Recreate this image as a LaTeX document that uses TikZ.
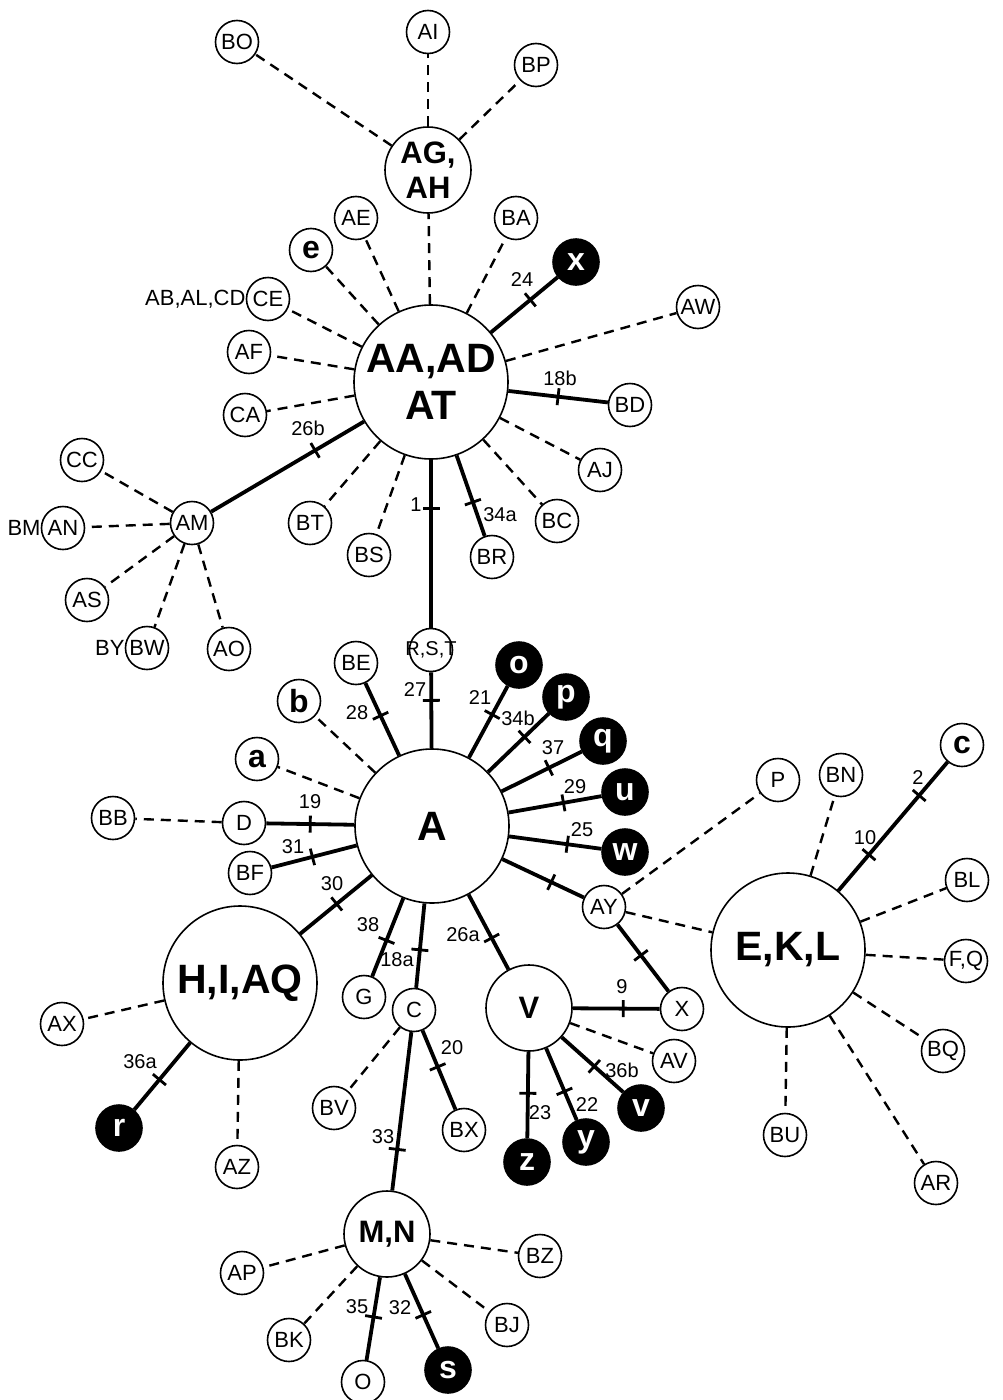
\documentclass[tikz,border=0pt]{standalone}
\usepackage{fontspec}
\setmainfont{Liberation Sans}

\tikzset{
    hap/.style={circle, draw, line width=1.6pt, inner sep=0pt, minimum size=43pt, fill=white, font=\fontsize{22}{24}\selectfont},
    haplow/.style={hap, font=\fontsize{32}{32}\selectfont\bfseries},
    hapdark/.style={haplow, fill=black, text=white, minimum size=46pt},
    hapmid/.style={hap, minimum size=86pt, align=center, font=\fontsize{31}{35}\selectfont\bfseries},
    hapbig/.style={hap, minimum size=154pt, align=center, font=\fontsize{41}{47}\selectfont\bfseries},
    mut/.style={line width=3.8pt},
    alt/.style={line width=2.4pt, dash pattern=on 10pt off 7pt},
    mutbar/.style={fill=black, inner sep=0pt, minimum width=2.8pt, minimum height=17pt, sloped},
    mutno/.style={inner sep=0pt, font=\fontsize{20}{20}\selectfont},
    beside/.style={inner sep=0pt, anchor=east, font=\fontsize{22}{24}\selectfont}
}

\begin{document}
\begin{tikzpicture}[x=1pt, y=-1pt]

        \useasboundingbox (0,0) rectangle (1002,1400);

        % Zentren
        \node [hapbig] (AAAD) at (431,382) {AA,AD\\AT};
        \node [hapbig] (A) at (432,826) {A};
        \node [hapbig] (EKL) at (788,950) {E,K,L};
        \node [hapbig] (HIAQ) at (240,983) {H,I,AQ};
        \node [hapmid] (AGAH) at (428,170) {AG,\\AH};
        \node [hapmid] (V) at (529,1008) {V};
        \node [hapmid] (MN) at (387,1234) {M,N};

        % obere Gruppe
        \node [hap] (BO) at (237,42) {BO};
        \node [hap] (AI) at (428,32) {AI};
        \node [hap] (BP) at (536,65) {BP};
        \node [hap] (AE) at (356,218) {AE};
        \node [hap] (BA) at (516,218) {BA};
        \node [haplow] (e) at (311,250) {e};
        \node [hapdark] (x) at (576,262) {x};
        \node [hap] (CE) at (268,299) {CE};
        \node [beside] (abalcd) at (CE.west) {AB,AL,CD};
        \node [hap] (AW) at (698,307) {AW};
        \node [hap] (AF) at (249,352) {AF};
        \node [hap] (CA) at (245,415) {CA};
        \node [hap] (BD) at (630,405) {BD};
        \node [hap] (AJ) at (600,470) {AJ};
        \node [hap] (BC) at (557,521) {BC};
        \node [hap] (BR) at (492,557) {BR};
        \node [hap] (BS) at (369,555) {BS};
        \node [hap] (BT) at (310,523) {BT};

        % AM
        \node [hap] (AM) at (192,523) {AM};
        \node [hap] (CC) at (82,460) {CC};
        \node [hap] (AN) at (63,528) {AN};
        \node [beside] (bm) at (AN.west) {BM};
        \node [hap] (AS) at (87,600) {AS};
        \node [hap] (BW) at (147,648) {BW};
        \node [beside] (by) at (BW.west) {BY};
        \node [hap] (AO) at (229,649) {AO};

        % um A
        \node [hap] (RST) at (431,650) {};
        \node [font=\fontsize{20}{22}\selectfont] (rst) at (RST) {R,S,T};
        \node [hap] (BE) at (356,663) {BE};
        \node [hapdark] (o) at (519,665) {o};
        \node [hapdark] (p) at (566,697) {p};
        \node [hapdark] (q) at (603,741) {q};
        \node [hapdark] (u) at (625,792) {u};
        \node [hapdark] (w) at (625,852) {w};
        \node [haplow] (b) at (299,701) {b};
        \node [haplow] (a) at (257,759) {a};
        \node [hap] (BB) at (113,818) {BB};
        \node [hap] (D) at (244,823) {D};
        \node [hap] (BF) at (250,873) {BF};
        \node [hap] (AY) at (604,907) {AY};
        \node [hap] (X) at (682,1009) {X};
        \node [hap] (AV) at (674,1061) {AV};
        \node [hap] (G) at (364,997) {G};
        \node [hap] (C) at (414,1010) {C};
        \node [hap] (BV) at (334,1108) {BV};
        \node [hap] (BX) at (464,1130) {BX};
        \node [hapdark] (v) at (641,1108) {v};
        \node [hapdark] (y) at (586,1142) {y};
        \node [hapdark] (z) at (527,1162) {z};

        % E,K,L
        \node [hap] (P) at (778,780) {P};
        \node [hap] (BN) at (841,775) {BN};
        \node [haplow] (c) at (962,745) {c};
        \node [hap] (BL) at (967,880) {BL};
        \node [hap] (FQ) at (966,961) {F,Q};
        \node [hap] (BQ) at (943,1051) {BQ};
        \node [hap] (AR) at (936,1183) {AR};
        \node [hap] (BU) at (785,1135) {BU};

        % H,I,AQ
        \node [hap] (AX) at (62,1024) {AX};
        \node [hapdark] (r) at (119,1128) {r};
        \node [hap] (AZ) at (237,1167) {AZ};

        % M,N
        \node [hap] (AP) at (242,1273) {AP};
        \node [hap] (BZ) at (540,1256) {BZ};
        \node [hap] (BJ) at (507,1325) {BJ};
        \node [hap] (BK) at (289,1340) {BK};
        \node [hap] (O) at (363,1382) {O};
        \node [hapdark] (s) at (448,1370) {s};

        % gestrichelte Verbindungen
        \foreach \ziel in {AGAH,AE,BA,e,CE,AF,CA,BT,BS,BC,AJ,AW}
            \draw [alt] (AAAD) -- (\ziel);
        \foreach \ziel in {BO,AI,BP}
            \draw [alt] (AGAH) -- (\ziel);
        \foreach \ziel in {CC,AN,AS,BW,AO}
            \draw [alt] (AM) -- (\ziel);
        \foreach \ziel in {a,b}
            \draw [alt] (A) -- (\ziel);
        \draw [alt] (D) -- (BB);
        \foreach \ziel in {P,EKL}
            \draw [alt] (AY) -- (\ziel);
        \draw [alt] (V) -- (AV);
        \draw [alt] (C) -- (BV);
        \foreach \ziel in {AX,AZ}
            \draw [alt] (HIAQ) -- (\ziel);
        \foreach \ziel in {BN,BL,FQ,BQ,AR,BU}
            \draw [alt] (EKL) -- (\ziel);
        \foreach \ziel in {AP,BK,BZ,BJ}
            \draw [alt] (MN) -- (\ziel);

        % Mutationsschritte
        \foreach \von/\nach/\wo in {AAAD/x/.59, AAAD/BD/.5, AAAD/AM/.32, AAAD/RST/.29, AAAD/BR/.58,
                RST/A/.37, A/BE/.55, A/o/.6, A/p/.6, A/q/.59, A/u/.59, A/w/.63, A/D/.5, A/BF/.52,
                A/HIAQ/.49, A/G/.54, A/C/.55, A/V/.58, A/AY/.6, AY/X/.46, V/X/.58, V/v/.53,
                V/y/.6, V/z/.48, C/BX/.46, C/MN/.74, HIAQ/r/.55, MN/O/.48, MN/s/.55}
            \draw [mut] (\von) -- node [mutbar, pos=\wo] (t\von\nach) {} (\nach);
        \draw [mut] (EKL) -- node [mutbar, pos=.28] (tEKLc1) {} node [mutbar, pos=.74] (tEKLc2) {} (c);

        % Nummern
        \foreach \nr/\px/\py in {24/522/280, 18b/560/378, 26b/308/428, 1/416/505, 34a/500/515,
                27/415/690, 28/357/713, 21/480/698, 34b/518/718, 37/553/748, 29/575/787,
                25/582/830, 19/310/802, 31/293/847, 30/332/884, 38/368/925, 18a/397/960,
                26a/463/935, 9/622/987, 36b/622/1070, 22/587/1105, 23/540/1113, 20/452/1048,
                33/383/1137, 36a/140/1062, 10/865/838, 2/918/778, 35/357/1307, 32/400/1308}
            \node [mutno] (n\nr) at (\px,\py) {\nr};

\end{tikzpicture}
\end{document}
